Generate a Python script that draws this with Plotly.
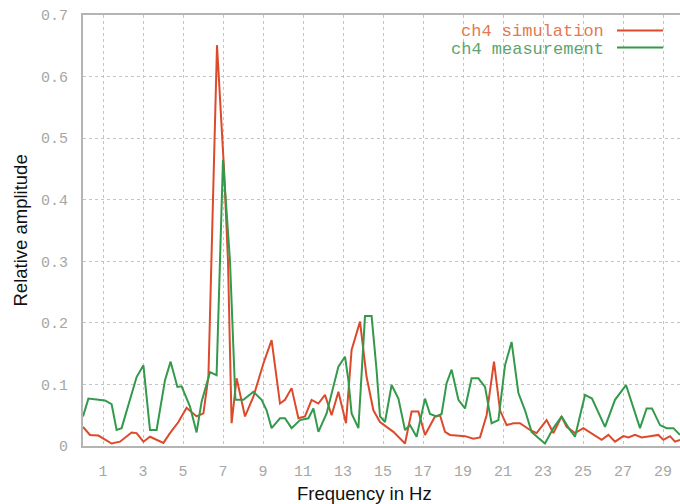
import plotly.graph_objects as go

# ---- data ----
sim_freq = [0, 0.35, 0.77, 1.1, 1.43, 1.85, 2.43, 2.68, 3.02, 3.35, 3.68, 4.02, 4.35, 4.77, 5.18,
            5.68, 6.02, 6.27, 6.7, 7.05, 7.25, 7.43, 7.68, 8.1, 8.52, 9.02, 9.43, 9.85, 10.1, 10.43,
            10.77, 11.1, 11.43, 11.77, 12.1, 12.43, 12.77, 13.15, 13.43, 13.85, 14.18, 14.52, 14.85,
            15.52, 16.1, 16.43, 16.77, 17.1, 17.6, 17.85, 18.1, 18.35, 19.1, 19.52, 19.85, 20.18,
            20.55, 20.85, 21.18, 21.52, 21.85, 22.35, 22.68, 23.18, 23.52, 23.93, 24.18, 24.6, 25.02,
            25.52, 25.93, 26.27, 26.6, 27.02, 27.27, 27.6, 27.93, 28.35, 28.77, 29.02, 29.35, 29.6, 29.85]
sim_amp = [0.031, 0.018, 0.017, 0.010, 0.004, 0.007, 0.022, 0.021, 0.007, 0.015, 0.010, 0.005, 0.021,
           0.039, 0.062, 0.048, 0.053, 0.112, 0.651, 0.45, 0.30, 0.037, 0.110, 0.048, 0.080, 0.134,
           0.172, 0.069, 0.075, 0.094, 0.045, 0.048, 0.075, 0.069, 0.083, 0.050, 0.088, 0.037, 0.156,
           0.202, 0.112, 0.058, 0.039, 0.023, 0.004, 0.056, 0.056, 0.018, 0.048, 0.050, 0.023, 0.018,
           0.016, 0.012, 0.014, 0.050, 0.137, 0.058, 0.034, 0.037, 0.037, 0.026, 0.021, 0.042, 0.021,
           0.048, 0.031, 0.021, 0.029, 0.018, 0.010, 0.018, 0.007, 0.016, 0.014, 0.018, 0.014, 0.016,
           0.018, 0.010, 0.016, 0.007, 0.010]

meas_freq = [0, 0.27, 1.1, 1.43, 1.68, 1.93, 2.68, 3.02, 3.35, 3.68, 4.1, 4.38, 4.72, 4.93, 5.35, 5.68,
             5.93, 6.35, 6.68, 7.0, 7.35, 7.62, 8.02, 8.52, 8.93, 9.18, 9.43, 9.85, 10.1, 10.43, 10.85,
             11.27, 11.52, 11.77, 12.18, 12.77, 13.1, 13.27, 13.43, 13.77, 14.1, 14.43, 14.68, 14.85,
             15.1, 15.43, 15.77, 16.1, 16.35, 16.68, 17.1, 17.35, 17.68, 17.93, 18.18, 18.43, 18.77,
             19.1, 19.43, 19.77, 20.1, 20.43, 20.77, 21.1, 21.43, 21.77, 22.1, 22.43, 22.77, 23.1,
             23.52, 23.93, 24.35, 24.6, 25.1, 25.45, 26.1, 26.6, 27.15, 27.85, 28.18, 28.45, 28.85,
             29.18, 29.52, 29.85]
meas_amp = [0.048, 0.077, 0.074, 0.068, 0.026, 0.029, 0.112, 0.131, 0.026, 0.026, 0.107, 0.137, 0.096,
            0.097, 0.064, 0.022, 0.072, 0.120, 0.115, 0.465, 0.30, 0.075, 0.075, 0.088, 0.075, 0.058,
            0.029, 0.045, 0.045, 0.029, 0.042, 0.045, 0.061, 0.023, 0.053, 0.129, 0.145, 0.107, 0.053,
            0.029, 0.211, 0.211, 0.123, 0.048, 0.039, 0.099, 0.077, 0.026, 0.034, 0.015, 0.077, 0.052,
            0.048, 0.052, 0.102, 0.124, 0.075, 0.061, 0.110, 0.110, 0.096, 0.037, 0.042, 0.131, 0.169,
            0.086, 0.058, 0.023, 0.013, 0.004, 0.029, 0.048, 0.026, 0.015, 0.083, 0.077, 0.031, 0.075,
            0.099, 0.029, 0.061, 0.061, 0.034, 0.029, 0.029, 0.018]

x_ticks = [1, 3, 5, 7, 9, 11, 13, 15, 17, 19, 21, 23, 25, 27, 29]
y_ticks = [0, 0.1, 0.2, 0.3, 0.4, 0.5, 0.6, 0.7]
y_ticktext = ["0", "0.1", "0.2", "0.3", "0.4", "0.5", "0.6", "0.7"]
series_names = ["ch4 simulation", "ch4 measurement"]

RED = "#dc4a2c"
GREEN = "#33994b"
GRID = "#c4c4c4"
AXIS = "#b4b4b4"
TICKFONT = dict(family="Liberation Mono, Courier New, monospace", size=15, color="#a6a6a6")

fig = go.Figure()
fig.add_trace(go.Scatter(x=sim_freq, y=sim_amp, mode="lines", name=series_names[0],
                         line=dict(color=RED, width=2)))
fig.add_trace(go.Scatter(x=meas_freq, y=meas_amp, mode="lines", name=series_names[1],
                         line=dict(color=GREEN, width=2)))

fig.update_layout(
    width=680, height=504,
    margin=dict(l=83, r=0, t=15, b=58),
    paper_bgcolor="white", plot_bgcolor="white",
    showlegend=False,
    xaxis=dict(range=[0, 29.85], tickvals=x_ticks, showgrid=True, gridcolor=GRID, griddash="3px,3px",
               gridwidth=1, showline=True, linecolor=AXIS, linewidth=2, mirror=True,
               zeroline=False, ticks="", tickfont=TICKFONT, ticklabelstandoff=10, automargin=False),
    yaxis=dict(range=[0, 0.7], tickvals=y_ticks, ticktext=y_ticktext, showgrid=True, gridcolor=GRID,
               griddash="3px,3px", gridwidth=1, showline=True, linecolor=AXIS, linewidth=2,
               zeroline=False, ticks="", tickfont=TICKFONT, ticklabelstandoff=10, automargin=False),
)

# axis titles
fig.add_annotation(text="Frequency in Hz", xref="paper", yref="paper", x=(364 - 83) / 597,
                   y=(446 - 493) / 431, xanchor="center", yanchor="middle", showarrow=False,
                   font=dict(family="Liberation Sans, Arial, sans-serif", size=18.5, color="#111111"))
fig.add_annotation(text="Relative amplitude", xref="paper", yref="paper", x=(20 - 83) / 597,
                   y=0.5, xanchor="center", yanchor="middle", textangle=-90, showarrow=False,
                   font=dict(family="Liberation Sans, Arial, sans-serif", size=18.5, color="#111111"))

# legend (gnuplot style: text then line sample, top right)
leg_text_colors = ["#e27a52", "#5ea46e"]
leg_line_colors = [RED, GREEN]
leg_text_y = [31.5, 49]
leg_line_y = [30.5, 47.5]
for i, name in enumerate(series_names):
    fig.add_annotation(text=name, xref="paper", yref="paper", x=(606 - 83) / 597,
                       y=(446 - leg_text_y[i]) / 431, xanchor="right", yanchor="middle",
                       showarrow=False,
                       font=dict(family="Liberation Mono, Courier New, monospace", size=17,
                                 color=leg_text_colors[i]))
    fig.add_shape(type="line", xref="paper", yref="paper", x0=(617 - 83) / 597, x1=(663 - 83) / 597,
                  y0=(446 - leg_line_y[i]) / 431, y1=(446 - leg_line_y[i]) / 431,
                  line=dict(color=leg_line_colors[i], width=2))

fig.write_html("out.html")
